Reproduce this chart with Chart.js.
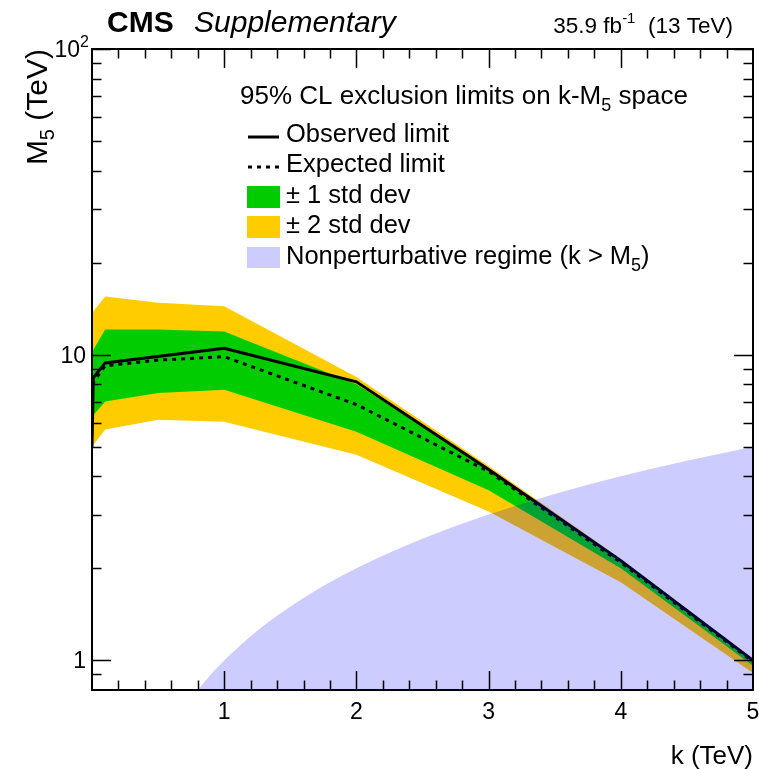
<!DOCTYPE html>
<html>
<head>
<meta charset="utf-8">
<style>
  html, body { margin: 0; padding: 0; background: #fff; }
  #wrap { width: 759px; height: 769px; }
</style>
<script src="https://cdn.jsdelivr.net/npm/chart.js@4/dist/chart.umd.min.js"></script>
</head>
<body>
<div id="wrap"><canvas id="limits" width="759" height="769"></canvas></div>
<script>
// k values (TeV) for the expected limit and its bands
const kBand = [0, 0.1, 0.5, 1, 2, 3, 4, 5];
const expected = [8.0, 9.2, 9.6, 9.85, 6.87, 4.15, 2.09, 0.99];
const plus1 = [10.2, 12.1, 12.1, 11.9, 8.0, 4.25, 2.13, 1.0];
const minus1 = [6.27, 7.03, 7.5, 7.68, 5.6, 3.6, 2.0, 0.96];
const plus2 = [13.7, 15.5, 14.8, 14.4, 8.45, 4.32, 2.15, 1.01];
const minus2 = [5.0, 5.69, 6.13, 6.03, 4.71, 3.07, 1.80, 0.91];

// observed limit has an extra point near k = 0
const kObs = [0, 0.01, 0.1, 1, 2, 3, 4, 5];
const observed = [5.0, 8.4, 9.4, 10.5, 8.15, 4.21, 2.12, 1.0];

// boundary of the nonperturbative regime, M5 = k
const nonpertK = [0.8, 0.9, 1, 1.2, 1.4, 1.6, 1.8, 2, 2.25, 2.5, 2.75, 3, 3.5, 4, 4.5, 5];
const nonpertM5 = [0.8, 0.9, 1, 1.2, 1.4, 1.6, 1.8, 2, 2.25, 2.5, 2.75, 3, 3.5, 4, 4.5, 5];

// axis ticks
const xMajor = [1, 2, 3, 4, 5];
const xTickLabels = ['1', '2', '3', '4', '5'];
const yMajor = [1, 10, 100];
const yMinor = [0.9, 2, 3, 4, 5, 6, 7, 8, 9, 20, 30, 40, 50, 60, 70, 80, 90];

const FONT = '"Liberation Sans", Arial, Helvetica, sans-serif';
const GREEN = 'rgb(0,204,0)';
const YELLOW = 'rgb(255,204,0)';
const BLUE = 'rgba(0,0,255,0.2)';

function pts(xs, ys) {
  return xs.map((x, i) => ({ x: x, y: ys[i] }));
}

function band(label, xs, ys, color, fill, order) {
  return {
    label: label, data: pts(xs, ys), borderWidth: 0, pointRadius: 0,
    borderColor: color, backgroundColor: color, fill: fill, order: order
  };
}

// draws text made of pieces with their own size / vertical shift
function richText(ctx, parts, x, y, align) {
  let total = 0;
  parts.forEach(p => {
    ctx.font = (p.style || '') + ' ' + p.size + 'px ' + FONT;
    p.w = ctx.measureText(p.t).width;
    total += p.w;
  });
  let cx = align === 'right' ? x - total : align === 'center' ? x - total / 2 : x;
  ctx.textAlign = 'left';
  ctx.textBaseline = 'alphabetic';
  parts.forEach(p => {
    ctx.font = (p.style || '') + ' ' + p.size + 'px ' + FONT;
    ctx.fillText(p.t, cx, y + (p.dy || 0));
    cx += p.w;
  });
}

const decorations = {
  id: 'decorations',
  afterDraw(chart) {
    const ctx = chart.ctx;
    const a = chart.chartArea;
    const xs = chart.scales.x, ys = chart.scales.y;
    ctx.save();
    ctx.fillStyle = '#000';
    ctx.strokeStyle = '#000';

    // ticks on all four sides
    ctx.lineWidth = 1.5;
    ctx.beginPath();
    for (let v = 0.2; v < 5; v += 0.2) {
      const px = Math.round(xs.getPixelForValue(v)) + 0.5;
      const major = Math.abs(v - Math.round(v)) < 1e-6;
      const len = major ? 19 : 9.5;
      ctx.moveTo(px, a.bottom); ctx.lineTo(px, a.bottom - len);
      ctx.moveTo(px, a.top); ctx.lineTo(px, a.top + len);
    }
    yMajor.concat(yMinor).forEach(v => {
      const py = Math.round(ys.getPixelForValue(v)) + 0.5;
      const len = yMajor.includes(v) ? 19 : 9.5;
      ctx.moveTo(a.left, py); ctx.lineTo(a.left + len, py);
      ctx.moveTo(a.right, py); ctx.lineTo(a.right - len, py);
    });
    ctx.stroke();

    // frame
    ctx.lineWidth = 2;
    ctx.strokeRect(a.left, a.top, a.right - a.left, a.bottom - a.top);

    // x tick labels
    ctx.font = '23px ' + FONT;
    ctx.textAlign = 'center';
    ctx.textBaseline = 'alphabetic';
    xMajor.forEach((v, i) => {
      ctx.fillText(xTickLabels[i], xs.getPixelForValue(v), 719);
    });

    // y tick labels
    richText(ctx, [{ t: '1', size: 23 }], 86, ys.getPixelForValue(1) + 8, 'right');
    richText(ctx, [{ t: '10', size: 23 }], 86, ys.getPixelForValue(10) + 8, 'right');
    richText(ctx, [{ t: '10', size: 23 }, { t: '2', size: 16, dy: -10 }],
      89, ys.getPixelForValue(100) + 8, 'right');

    // axis titles
    richText(ctx, [{ t: 'k (TeV)', size: 26 }], 753, 764, 'right');
    ctx.save();
    ctx.translate(47, 49);
    ctx.rotate(-Math.PI / 2);
    richText(ctx, [{ t: 'M', size: 30 }, { t: '5', size: 20, dy: 7 }, { t: ' (TeV)', size: 30 }], 0, 0, 'right');
    ctx.restore();

    // header
    richText(ctx, [{ t: 'CMS', size: 30, style: 'bold' }], 107, 32, 'left');
    richText(ctx, [{ t: 'Supplementary', size: 30, style: 'italic' }], 194, 32, 'left');
    richText(ctx, [{ t: '35.9 fb', size: 22.5 }, { t: '-1', size: 15, dy: -10 },
      { t: '  (13 TeV)', size: 22.5 }], 733, 33, 'right');

    // legend
    richText(ctx, [{ t: '95% CL exclusion limits on k-M', size: 26 }, { t: '5', size: 18, dy: 7 },
      { t: ' space', size: 26 }], 240, 104, 'left');
    const lx = 286;
    ctx.lineWidth = 3;
    ctx.setLineDash([]);
    ctx.beginPath(); ctx.moveTo(248, 137); ctx.lineTo(279, 137); ctx.stroke();
    ctx.setLineDash([4, 5]);
    ctx.beginPath(); ctx.moveTo(248, 167); ctx.lineTo(280, 167); ctx.stroke();
    ctx.setLineDash([]);
    richText(ctx, [{ t: 'Observed limit', size: 25.5 }], lx, 142, 'left');
    richText(ctx, [{ t: 'Expected limit', size: 25.5 }], lx, 172, 'left');
    ctx.fillStyle = GREEN; ctx.fillRect(247, 186, 33, 22);
    ctx.fillStyle = YELLOW; ctx.fillRect(247, 216, 33, 22);
    ctx.fillStyle = 'rgb(204,204,255)'; ctx.fillRect(247, 247, 33, 21);
    ctx.fillStyle = '#000';
    richText(ctx, [{ t: '\u00b1 1 std dev', size: 25.5 }], lx, 203, 'left');
    richText(ctx, [{ t: '\u00b1 2 std dev', size: 25.5 }], lx, 233, 'left');
    richText(ctx, [{ t: 'Nonperturbative regime (k > M', size: 25.5 }, { t: '5', size: 18, dy: 7 },
      { t: ')', size: 25.5 }], lx, 264, 'left');
    ctx.restore();
  }
};

new Chart(document.getElementById('limits'), {
  type: 'line',
  data: {
    datasets: [
      band('+2 std dev', kBand, plus2, YELLOW, 1, 6),
      band('-2 std dev', kBand, minus2, YELLOW, false, 7),
      band('+1 std dev', kBand, plus1, GREEN, 3, 4),
      band('-1 std dev', kBand, minus1, GREEN, false, 5),
      {
        label: 'Expected limit', data: pts(kBand, expected), borderColor: '#000',
        borderWidth: 3, borderDash: [4, 5], pointRadius: 0, fill: false, order: 3
      },
      {
        label: 'Observed limit', data: pts(kObs, observed), borderColor: '#000',
        borderWidth: 3, pointRadius: 0, fill: false, order: 2
      },
      {
        label: 'Nonperturbative regime', data: pts(nonpertK, nonpertM5),
        borderWidth: 0, pointRadius: 0, backgroundColor: BLUE, borderColor: BLUE,
        fill: 'start', cubicInterpolationMode: 'monotone', order: 1
      }
    ]
  },
  options: {
    responsive: false,
    devicePixelRatio: 1,
    animation: false,
    layout: { padding: { left: 92, top: 49, right: 6, bottom: 79 } },
    scales: {
      x: { type: 'linear', min: 0, max: 5, display: false },
      y: { type: 'logarithmic', min: 0.8, max: 100, display: false }
    },
    plugins: {
      legend: { display: false },
      tooltip: { enabled: false },
      filler: { propagate: false }
    }
  },
  plugins: [decorations]
});
</script>
</body>
</html>
